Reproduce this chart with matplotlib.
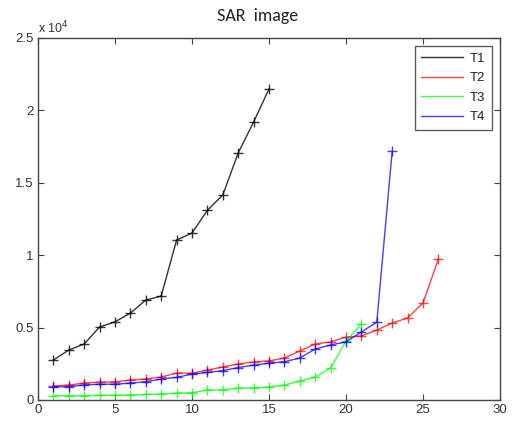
import matplotlib
matplotlib.use("Agg")
import matplotlib.pyplot as plt
from matplotlib.ticker import FuncFormatter

plt.rcParams['font.family'] = ['Liberation Sans', 'DejaVu Sans']

t1_x = list(range(1, 16))
t1_y = [2760, 3450, 3870, 5040, 5400, 6000, 6900, 7180, 11050, 11530,
        13100, 14160, 17060, 19200, 21480]

t2_x = list(range(1, 27))
t2_y = [970, 1030, 1170, 1240, 1250, 1380, 1450, 1590, 1860, 1850,
        2070, 2280, 2490, 2620, 2700, 2900, 3380, 3870, 4010, 4350,
        4420, 4830, 5320, 5660, 6700, 9740]

t3_x = list(range(1, 22))
t3_y = [280, 300, 310, 320, 330, 350, 380, 420, 480, 500,
        690, 700, 830, 830, 900, 1030, 1310, 1590, 2210, 4070, 5250]

t4_x = list(range(1, 24))
t4_y = [900, 920, 1040, 1090, 1090, 1170, 1260, 1450, 1560, 1790,
        1900, 2030, 2240, 2410, 2540, 2640, 2900, 3520, 3800, 4010,
        4700, 5370, 17200]

labels = ['T1', 'T2', 'T3', 'T4']
colors = ['#000000', '#ff0000', '#00ff00', '#0000ff']

x_ticks = [0, 5, 10, 15, 20, 25, 30]
y_ticks = [0, 5000, 10000, 15000, 20000, 25000]

fig = plt.figure(figsize=(5.15, 4.21), dpi=100)
ax = fig.add_axes([38/515, 1 - 400/421, 462/515, 362/421])

for xs, ys, lab, c in zip([t1_x, t2_x, t3_x, t4_x], [t1_y, t2_y, t3_y, t4_y], labels, colors):
    ax.plot(xs, ys, color=c, marker='+', markersize=7, markeredgewidth=1.0,
            linewidth=1.0, label=lab, alpha=0.75 if c != '#000000' else 0.8)

ax.set_xlim(0, 30)
ax.set_ylim(0, 25000)
ax.set_xticks(x_ticks)
ax.set_yticks(y_ticks)
ax.yaxis.set_major_formatter(FuncFormatter(lambda v, p: ('%g' % (v / 1e4))))
ax.tick_params(direction='in', top=True, right=True, length=4, width=0.8,
               labelsize=9.5, colors='#444444', labelcolor='#333333', pad=3)
for s in ax.spines.values():
    s.set_color('#444444')
    s.set_linewidth(1.0)

ax.text(0.0, 1.005, r'x 10$^4$', transform=ax.transAxes, fontsize=9,
        color='#333333', ha='left', va='bottom')

fig.text(0.5 + 0.0, 1 - 16/421, 'SAR  image', ha='center', va='center',
         fontsize=13, color='#222222', family=['Carlito', 'Liberation Sans', 'DejaVu Sans'])

leg = ax.legend(loc='upper right', fontsize=9.5, frameon=True, fancybox=False,
                edgecolor='#333333', borderpad=0.5, handlelength=3.2,
                labelspacing=0.55, handletextpad=0.5, borderaxespad=0.6)
leg.get_frame().set_linewidth(1.0)
for h in leg.legend_handles:
    h.set_marker('')
for t in leg.get_texts():
    t.set_color('#222222')

fig.savefig('out.png', dpi=100)
